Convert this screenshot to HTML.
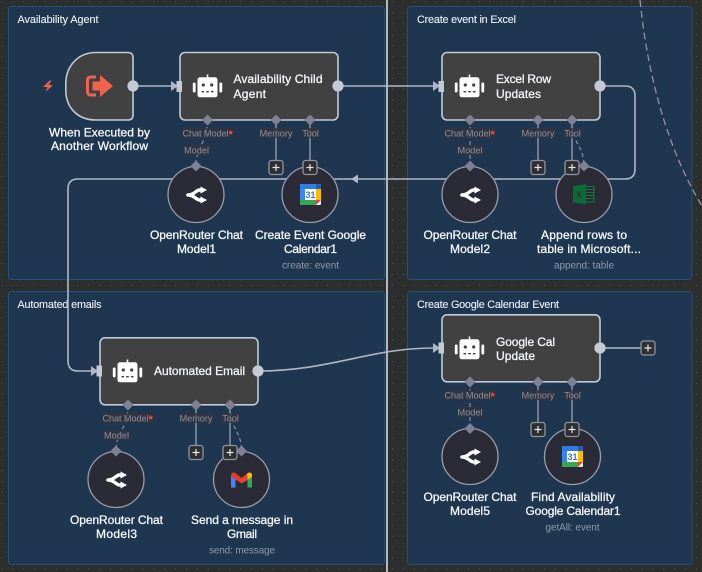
<!DOCTYPE html>
<html><head><meta charset="utf-8"><style>
html,body{margin:0;padding:0;background:#2d2e2e;width:702px;height:572px;overflow:hidden}
svg{display:block}
text{font-family:"Liberation Sans",sans-serif}
.t{font-size:12px;fill:#f5f6f9;stroke:#f5f6f9;stroke-width:.3}
.p{font-size:10.800px;fill:#f0f3f7;stroke:#f0f3f7;stroke-width:.1}
.s{font-size:10px;fill:#8e9aa8}
.l{font-size:9.200px;fill:#8d8f9e}
.lb{fill:#33343c;fill-opacity:.8}
.n{fill:#414141;stroke:#c3c9d5;stroke-width:1.6}
.c{fill:#2b2b38;stroke:#9a9ca6;stroke-width:1.3}
.e{fill:none;stroke:#b2b7c5;stroke-width:1.6}
.d{fill:none;stroke:#8d8f9e;stroke-width:1.2;stroke-dasharray:4 3}
.v{stroke:#8d93a6;stroke-width:1.5}
.dm{fill:#7f8196}
.pb rect{fill:#2f2f2f;stroke:#8f94a3;stroke-width:1.3}
.pb path{stroke:#e6e8ee;stroke-width:1.2}
.pt{fill:#c3c9d5}
</style></head><body>
<svg width="702" height="572" viewBox="0 0 702 572" xmlns="http://www.w3.org/2000/svg">
<defs>
<pattern id="dots" width="10.85" height="10.9" patternUnits="userSpaceOnUse" x="1.500" y="1.500"><rect x="0" y="0" width="1" height="1" fill="#56585c"/></pattern>
<symbol id="robot" viewBox="0 0 30 24" width="30" height="24" overflow="visible">
<rect x="14.200" y="0" width="1.600" height="4" fill="#fff"/>
<rect x="5" y="2.800" width="20" height="20" rx="2.500" fill="#fff"/>
<rect x="0.300" y="8" width="2.800" height="10" rx="1.200" fill="#fff"/>
<rect x="26.900" y="8" width="2.800" height="10" rx="1.200" fill="#fff"/>
<circle cx="10.800" cy="10.500" r="1.600" fill="#414141"/><circle cx="19.200" cy="10.500" r="1.600" fill="#414141"/>
<rect x="9" y="16.500" width="2.600" height="1.400" fill="#414141"/><rect x="13.700" y="16.500" width="2.600" height="1.400" fill="#414141"/><rect x="18.400" y="16.500" width="2.600" height="1.400" fill="#414141"/>
</symbol>
<symbol id="or" viewBox="0 0 22 16" width="22" height="16" overflow="visible">
<path d="M17 3H14.500C11 3 9.500 8 3 8C9.500 8 11 13 14.500 13H17" fill="none" stroke="#fff" stroke-width="3.400" stroke-linejoin="round"/>
<path d="M15.500 -0.500L22 3L15.500 6.500Z M15.500 9.500L22 13L15.500 16.500Z" fill="#fff"/>
<path d="M0.500 8L7 5.500V10.500Z" fill="#fff"/>
</symbol>
<symbol id="cal" viewBox="0 0 21 21" width="21" height="21" overflow="visible">
<rect x="0" y="0" width="21" height="21" rx="1.500" fill="#fff"/>
<path d="M1.500 0H16V5H5V5H0V1.500A1.500 1.500 0 0 1 1.500 0Z" fill="#2f7de0"/>
<rect x="0" y="5" width="5" height="11" fill="#3f83ee"/>
<path d="M16 0H19.500A1.500 1.500 0 0 1 21 1.500V5H16Z" fill="#1e5fc4"/>
<rect x="16" y="5" width="5" height="11" fill="#fbbc04"/>
<path d="M0 16H16V21H1.500A1.500 1.500 0 0 1 0 19.500Z" fill="#34a853"/>
<path d="M16 16H21L16 21Z" fill="#ea4335"/>
<text x="10.500" y="14" font-size="9" font-weight="bold" fill="#3f78d8" text-anchor="middle" style="font-family:'Liberation Sans',sans-serif">31</text>
</symbol>
</defs>

<rect width="702" height="572" fill="#2d2e2e"/>
<rect width="702" height="572" fill="url(#dots)"/>

<!-- panels -->
<g fill="#1e3650" stroke="#25507a" stroke-width="1">
<rect x="8.500" y="6.500" width="376" height="273" rx="3"/>
<rect x="407.500" y="6.500" width="284.500" height="273" rx="3"/>
<rect x="8.500" y="291.500" width="376" height="273" rx="3"/>
<rect x="407.500" y="291.500" width="284.500" height="273" rx="3"/>
</g>

<!-- vertical line + dashed arc -->
<rect x="386" y="0" width="2" height="572" fill="#b4b8c2"/>
<path d="M640 0C646 60 662 140 702 206" fill="none" stroke="#9c8ea4" stroke-width="1.300" stroke-dasharray="7 4"/>

<!-- panel titles -->
<text class="p" x="17.500" y="23" textLength="81">Availability Agent</text>
<text class="p" x="417" y="23" textLength="99">Create event in Excel</text>
<text class="p" x="17.500" y="308" textLength="84">Automated emails</text>
<text class="p" x="417" y="308" textLength="142">Create Google Calendar Event</text>

<!-- main edges -->
<path class="e" d="M133 86H172"/>
<path class="e" d="M338 86C380 86 395 86 433 86"/>
<path class="e" d="M600 86H625Q635 86 635 96V169Q635 179 625 179H358"/>
<path class="e" d="M352 179H78Q68 179 68 189V361Q68 371 78 371H92"/>
<path class="e" d="M258 371C330 371 370 348 433 348"/>
<path class="e" d="M600 348H641"/>
<g fill="#b2b7c5">
<path d="M171 81L178 86L171 91Z"/>
<path d="M433 81L440 86L433 91Z"/>
<path d="M351 179L358 174.500V183.500Z"/>
<path d="M91 366L98 371L91 376Z"/>
<path d="M433 343L440 348L433 353Z"/>
</g>

<!-- trigger bolt -->
<path d="M49.500 80.500L43 87H47.500L45.500 92L53 85H48.500L51.500 80.500Z" fill="#f0644f"/>

<!-- vertical connectors -->
<g class="v">
<path d="M276 120V160M310 120V160M538 120V160M572 120V160M196 405V445M230 405V445M538 382V422M572 382V422"/>
</g>
<g class="d">
<path d="M207.500 120C207 145 196 145 196 166"/>
<path d="M470 120V166"/>
<path d="M572 120C572 145 584 145 584 166"/>
<path d="M128 405C128 430 116 430 116 451"/>
<path d="M230 405C230 430 241.500 430 241.500 451"/>
<path d="M470 382V428"/>
</g>

<!-- trigger node -->
<path class="n" d="M128 52.500H96C78 52.500 65.800 66 65.800 84V90C65.800 108 78 120 96 120H128Q133 120 133 115V57.500Q133 52.500 128 52.500Z"/>
<g fill="none" stroke="#f0644f" stroke-width="3"><path d="M96 77H91Q87.500 77 87.500 80.500V91.500Q87.500 95 91 95H96"/></g>
<path d="M92.500 81.500H100V75L113 86L100 97V90.500H92.500Z" fill="#f0644f"/>

<!-- agent nodes -->
<rect class="n" x="180" y="52.500" width="158" height="67.500" rx="5"/>
<rect class="n" x="442" y="52.500" width="158" height="67.500" rx="5"/>
<rect class="n" x="100" y="337.800" width="158" height="67" rx="5"/>
<rect class="n" x="442" y="314.800" width="158" height="67" rx="5"/>
<use href="#robot" x="192.500" y="74.500"/>
<use href="#robot" x="454.500" y="74.500"/>
<use href="#robot" x="112.500" y="359.500"/>
<use href="#robot" x="454.500" y="336.500"/>
<text class="t" x="233.500" y="83" textLength="89">Availability Child</text>
<text class="t" x="233.500" y="98" textLength="32.500">Agent</text>
<text class="t" x="496" y="83" textLength="55">Excel Row</text>
<text class="t" x="496" y="98" textLength="45">Updates</text>
<text class="t" x="154" y="375" textLength="91">Automated Email</text>
<text class="t" x="496" y="346" textLength="59">Google Cal</text>
<text class="t" x="496" y="360" textLength="39">Update</text>

<!-- ports -->
<g class="pt">
<circle cx="133" cy="86" r="5.600"/><circle cx="338" cy="86" r="5.600"/><circle cx="600" cy="86" r="5.600"/>
<circle cx="258" cy="371" r="5.600"/><circle cx="600" cy="348" r="5.600"/>
<rect x="176.500" y="81" width="5.500" height="11"/><rect x="438.500" y="81" width="5.500" height="11"/>
<rect x="96.500" y="365.500" width="5.500" height="11"/><rect x="438.500" y="342.500" width="5.500" height="11"/>
</g>

<!-- round nodes -->
<circle class="c" cx="196" cy="194.500" r="28"/>
<circle class="c" cx="310" cy="194.500" r="28"/>
<circle class="c" cx="470" cy="194.500" r="28"/>
<circle class="c" cx="584" cy="194.500" r="28"/>
<circle class="c" cx="116" cy="479.500" r="28"/>
<circle class="c" cx="241.500" cy="479.500" r="28"/>
<circle class="c" cx="470" cy="456.500" r="28"/>
<circle class="c" cx="572.500" cy="456.500" r="28"/>

<!-- icons -->
<use href="#or" x="185" y="187"/>
<use href="#or" x="459" y="187"/>
<use href="#or" x="105" y="472"/>
<use href="#or" x="459" y="449"/>
<use href="#cal" x="300" y="184"/>
<use href="#cal" x="562" y="446"/>
<!-- excel -->
<g>
<rect x="585" y="186.500" width="9" height="15.500" fill="none" stroke="#107c41" stroke-width="1"/>
<path d="M586 189.500H594M586 192.500H594M586 195.500H594M586 198.500H594" stroke="#107c41" stroke-width="1"/>
<path d="M573 186L586 184V204.500L573 202.500Z" fill="#0b6b39"/>
<text x="579" y="197.500" font-size="8" font-weight="bold" fill="#2b2b38" text-anchor="middle" style="font-family:'Liberation Sans',sans-serif">X</text>
</g>
<!-- gmail -->
<g>
<path d="M231 474.500V487.500H235.500V479.500Z" fill="#4285f4"/>
<path d="M252 474.500V487.500H247.500V479.500Z" fill="#34a853"/>
<path d="M231 474.500Q233 471 236 473.500L241.500 478L241.500 483.500L231 476.500Z" fill="#e23c2f"/>
<path d="M241.500 478L247 473.500L247.500 480L241.500 483.500Z" fill="#ea4335"/>
<path d="M247 473.500Q250.500 471 252 474.500V476.500L247.500 480Z" fill="#fbbc04"/>
</g>

<!-- diamonds -->
<g class="dm">
<path d="M207.500 114.500L213 120L207.500 125.500L202 120Z"/>
<path d="M276 114.500L281.500 120L276 125.500L270.500 120Z"/>
<path d="M310 114.500L315.500 120L310 125.500L304.500 120Z"/>
<path d="M470 114.500L475.500 120L470 125.500L464.500 120Z"/>
<path d="M538 114.500L543.500 120L538 125.500L532.500 120Z"/>
<path d="M572 114.500L577.500 120L572 125.500L566.500 120Z"/>
<path d="M128 399.500L133.500 405L128 410.500L122.500 405Z"/>
<path d="M196 399.500L201.500 405L196 410.500L190.500 405Z"/>
<path d="M230 399.500L235.500 405L230 410.500L224.500 405Z"/>
<path d="M470 376.500L475.500 382L470 387.500L464.500 382Z"/>
<path d="M538 376.500L543.500 382L538 387.500L532.500 382Z"/>
<path d="M572 376.500L577.500 382L572 387.500L566.500 382Z"/>
<path d="M196 160.500L201.500 166L196 171.500L190.500 166Z"/>
<path d="M470 160.500L475.500 166L470 171.500L464.500 166Z"/>
<path d="M584 160.500L589.500 166L584 171.500L578.500 166Z"/>
<path d="M116 445.500L121.500 451L116 456.500L110.500 451Z"/>
<path d="M241.500 445.500L247 451L241.500 456.500L236 451Z"/>
<path d="M470 423L475.500 428.500L470 434L464.500 428.500Z"/>
</g>

<!-- plus buttons -->
<g class="pb">
<g transform="translate(276,167.500)"><rect x="-7" y="-7" width="14" height="14" rx="2.500"/><path d="M-3.500 0H3.500M0 -3.500V3.500"/></g>
<g transform="translate(310,167.500)"><rect x="-7" y="-7" width="14" height="14" rx="2.500"/><path d="M-3.500 0H3.500M0 -3.500V3.500"/></g>
<g transform="translate(538,167.500)"><rect x="-7" y="-7" width="14" height="14" rx="2.500"/><path d="M-3.500 0H3.500M0 -3.500V3.500"/></g>
<g transform="translate(572,167.500)"><rect x="-7" y="-7" width="14" height="14" rx="2.500"/><path d="M-3.500 0H3.500M0 -3.500V3.500"/></g>
<g transform="translate(196,452.500)"><rect x="-7" y="-7" width="14" height="14" rx="2.500"/><path d="M-3.500 0H3.500M0 -3.500V3.500"/></g>
<g transform="translate(230,452.500)"><rect x="-7" y="-7" width="14" height="14" rx="2.500"/><path d="M-3.500 0H3.500M0 -3.500V3.500"/></g>
<g transform="translate(538,429.500)"><rect x="-7" y="-7" width="14" height="14" rx="2.500"/><path d="M-3.500 0H3.500M0 -3.500V3.500"/></g>
<g transform="translate(572,429.500)"><rect x="-7" y="-7" width="14" height="14" rx="2.500"/><path d="M-3.500 0H3.500M0 -3.500V3.500"/></g>
<g transform="translate(648,348)"><rect x="-7" y="-7" width="14" height="14" rx="2.500"/><path d="M-3.500 0H3.500M0 -3.500V3.500"/></g>
</g>

<!-- port label backgrounds -->
<g class="lb">
<rect x="182" y="128" width="51" height="10"/><rect x="259.500" y="128" width="33.500" height="10"/><rect x="302" y="128" width="17.500" height="10"/><rect x="183.500" y="145" width="26" height="10"/>
<rect x="444.500" y="128" width="51" height="10"/><rect x="521.500" y="128" width="33.500" height="10"/><rect x="564" y="128" width="17.500" height="10"/><rect x="457" y="145" width="26" height="10"/>
<rect x="102" y="413" width="51" height="10"/><rect x="179.500" y="413" width="33.500" height="10"/><rect x="222" y="413" width="17.500" height="10"/><rect x="103.500" y="430" width="26" height="10"/>
<rect x="444.500" y="390" width="51" height="10"/><rect x="521.500" y="390" width="33.500" height="10"/><rect x="564" y="390" width="17.500" height="10"/><rect x="457" y="407" width="26" height="10"/>
</g>
<!-- port labels -->
<g class="l">
<text x="182.500" y="136.500" textLength="46">Chat Model</text><text x="276" y="136.500" text-anchor="middle" textLength="33">Memory</text><text x="310.500" y="136.500" text-anchor="middle" textLength="16.500">Tool</text><text x="196.500" y="153.500" text-anchor="middle" textLength="25">Model</text>
<text x="444.500" y="136.500" textLength="46">Chat Model</text><text x="538" y="136.500" text-anchor="middle" textLength="33">Memory</text><text x="572.500" y="136.500" text-anchor="middle" textLength="16.500">Tool</text><text x="470" y="153.500" text-anchor="middle" textLength="25">Model</text>
<text x="102.500" y="421.500" textLength="46">Chat Model</text><text x="196" y="421.500" text-anchor="middle" textLength="33">Memory</text><text x="230.500" y="421.500" text-anchor="middle" textLength="16.500">Tool</text><text x="116.500" y="438.500" text-anchor="middle" textLength="25">Model</text>
<text x="444.500" y="398.500" textLength="46">Chat Model</text><text x="538" y="398.500" text-anchor="middle" textLength="33">Memory</text><text x="572.500" y="398.500" text-anchor="middle" textLength="16.500">Tool</text><text x="470" y="415.500" text-anchor="middle" textLength="25">Model</text>
</g>
<g fill="#ff4d4f" font-size="11" font-weight="bold">
<text x="228.500" y="138">*</text><text x="490.500" y="138">*</text><text x="148.500" y="423">*</text><text x="490.500" y="400">*</text>
</g>

<!-- node names -->
<g class="t" text-anchor="middle">
<text x="99.500" y="136.500" textLength="101">When Executed by</text>
<text x="99.500" y="150" textLength="97">Another Workflow</text>
<text x="196.500" y="239" textLength="93">OpenRouter Chat</text>
<text x="196.500" y="253" textLength="39">Model1</text>
<text x="310.500" y="239" textLength="111">Create Event Google</text>
<text x="310.500" y="253" textLength="53">Calendar1</text>
<text x="470" y="239" textLength="93">OpenRouter Chat</text>
<text x="470" y="253" textLength="40">Model2</text>
<text x="584" y="239" textLength="86">Append rows to</text>
<text x="589" y="253" textLength="104">table in Microsoft...</text>
<text x="116.500" y="524" textLength="93">OpenRouter Chat</text>
<text x="116.500" y="538" textLength="41">Model3</text>
<text x="242" y="524" textLength="102">Send a message in</text>
<text x="242" y="538" textLength="30">Gmail</text>
<text x="470" y="501" textLength="93">OpenRouter Chat</text>
<text x="470" y="515" textLength="40">Model5</text>
<text x="573" y="501" textLength="84">Find Availability</text>
<text x="573" y="515" textLength="95">Google Calendar1</text>
</g>
<g class="s" text-anchor="middle">
<text x="310.500" y="268.500" textLength="57">create: event</text>
<text x="584" y="268.500" textLength="60">append: table</text>
<text x="242" y="553.500" textLength="66">send: message</text>
<text x="572.500" y="530.500" textLength="54">getAll: event</text>
</g>
</svg>
</body></html>
